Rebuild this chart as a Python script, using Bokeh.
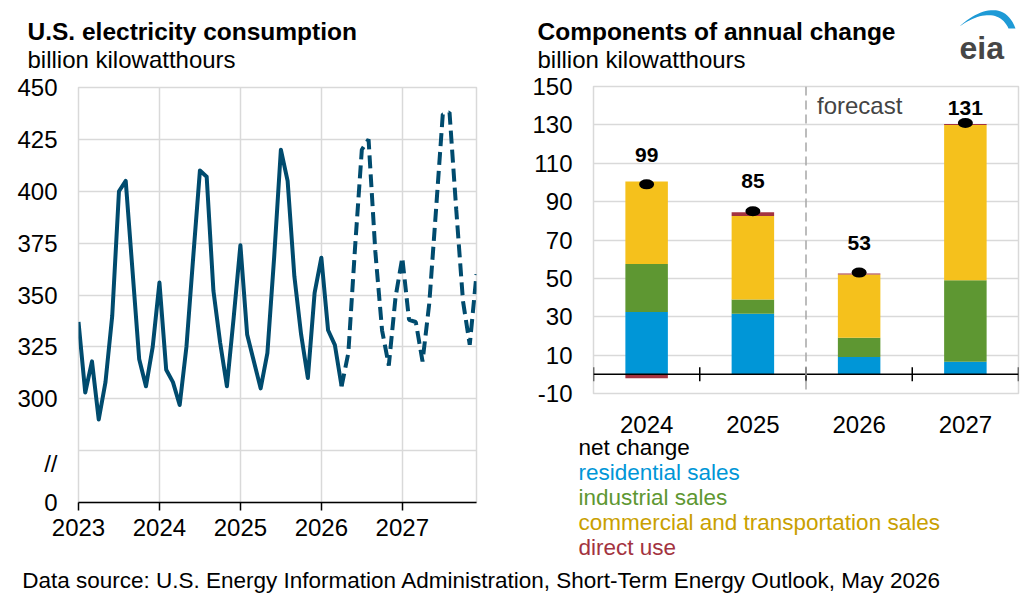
import math
from bokeh.plotting import figure
from bokeh.models import FixedTicker, Label, PolyAnnotation, ColumnDataSource, Span
from bokeh.layouts import column, row
from bokeh.embed import file_html
from bokeh.resources import INLINE
from bokeh.core.properties import value

FONT = "Liberation Sans"

# ---------------- data ----------------
# U.S. electricity consumption, monthly, Jan 2023 - Dec 2027 (billion kWh)
year_labels = ["2023", "2024", "2025", "2026", "2027"]
consumption = [
    337, 303, 318, 290, 308, 340, 400, 405, 362, 319, 306, 325,   # 2023
    356, 314, 308, 297, 325, 368, 410, 407, 352, 327, 306, 339,   # 2024
    374, 331, 318, 305, 322, 368, 420, 405, 359, 331, 310, 351,   # 2025
    368, 333, 326, 306, 322, 373, 420, 425, 371, 333, 316, 349,   # 2026
    368, 338, 337, 318, 346, 391, 437, 438, 391, 347, 326, 360,   # 2027
]
last_history = 39  # April 2026 is the last historical month

# Components of annual change (billion kWh)
change_years = ["2024", "2025", "2026", "2027"]
forecast_from = "2026"
residential = [32.5, 31.5, 9.0, 6.5]
industrial = [25.0, 7.5, 10.0, 42.5]
commercial = [43.0, 43.5, 33.0, 81.0]
direct_use = [-2.0, 2.0, 0.5, 0.5]
net_change = [99, 85, 53, 131]
change_ticks = list(range(-10, 151, 20))

LINE_COLOR = "#004B6E"
GRID = "#D9D9D9"
series = [
    ("residential sales", residential, "#0096D7", "#0096D7"),
    ("industrial sales", industrial, "#5E9732", "#5E9732"),
    ("commercial and transportation sales", commercial, "#F5C11C", "#C9A000"),
    ("direct use", direct_use, "#A33340", "#A33340"),
]

PAGE_W, PAGE_H = 1036, 601
HEAD_H = 72
FOOT_H = 36
MID_H = PAGE_H - HEAD_H - FOOT_H
W1 = 505
W2 = PAGE_W - W1


def no_align(fig):
    try:
        fig.frame_align = False
    except Exception:
        pass


def text_fig(w, h, x_range=(0, 1), y_range=(0, 1)):
    f = figure(width=w, height=h, output_backend="svg", toolbar_location=None,
               x_axis_type=None, y_axis_type=None, x_range=x_range, y_range=y_range,
               min_border=0)
    f.outline_line_color = None
    f.grid.visible = False
    no_align(f)
    return f


def clab(fig, x, y, text, size, color="black", bold=False, baseline="alphabetic"):
    fig.add_layout(Label(x=x, y=y, x_units="canvas", y_units="canvas",
                         text=text, text_font=FONT, text_font_size=size,
                         text_color=color, text_font_style="bold" if bold else "normal",
                         text_baseline=baseline, text_align="left"))


# ---------------- header (titles, logo) ----------------
header = text_fig(PAGE_W, HEAD_H)
clab(header, 27, 31, "U.S. electricity consumption", "24.5px", bold=True)
clab(header, 27, 59, "billion kilowatthours", "24px")
clab(header, 537, 31, "Components of annual change", "24.5px", bold=True)
clab(header, 537, 59, "billion kilowatthours", "24px")
clab(header, 959, 47, "eia", "32px", color="#464646", bold=True)


def cubic(p0, p1, p2, p3, n=24):
    pts = []
    for j in range(n + 1):
        t = j / n
        a, b, c, d = (1 - t) ** 3, 3 * t * (1 - t) ** 2, 3 * t * t * (1 - t), t ** 3
        pts.append((a * p0[0] + b * p1[0] + c * p2[0] + d * p3[0],
                    a * p0[1] + b * p1[1] + c * p2[1] + d * p3[1]))
    return pts


arc = cubic((959, 26), (978, 8), (1005, 0), (1015, 28)) + \
      cubic((1008, 28), (1000, 10), (980, 11), (959, 26))
header.add_layout(PolyAnnotation(xs=[p[0] for p in arc], ys=[p[1] for p in arc],
                                 xs_units="canvas", ys_units="canvas",
                                 fill_color="#1E9AD6", fill_alpha=1, line_color=None))

# ---------------- left chart ----------------
left = figure(width=W1, height=MID_H, output_backend="svg", toolbar_location=None,
              x_range=(0, len(consumption) - 1), y_range=(250, 450),
              min_border_left=78, min_border_right=W1 - 476,
              min_border_top=87 - HEAD_H, min_border_bottom=HEAD_H + MID_H - 502)
no_align(left)
left.outline_line_color = GRID
left.outline_line_width = 1.5

months = list(range(len(consumption)))
left.line(months[:last_history + 1], consumption[:last_history + 1],
          line_color=LINE_COLOR, line_width=4, line_join="round")
left.line(months[last_history:], consumption[last_history:],
          line_color=LINE_COLOR, line_width=4, line_dash="13 6")

xt = [12 * i for i in range(len(year_labels))]
left.xaxis.ticker = FixedTicker(ticks=xt)
left.xaxis.major_label_overrides = {t: lab for t, lab in zip(xt, year_labels)}
left.xaxis.axis_line_color = "black"
left.xaxis.axis_line_width = 1.5
left.xaxis.major_tick_line_color = "black"
left.xaxis.major_tick_line_width = 1.5
left.xaxis.major_tick_out = 8
left.xaxis.major_tick_in = 0
left.xaxis.minor_tick_line_color = None
left.xaxis.major_label_standoff = 8
left.xgrid.ticker = FixedTicker(ticks=xt[1:])

yt = [250, 269] + list(range(300, 451, 25))
left.yaxis.ticker = FixedTicker(ticks=yt)
left.yaxis.major_label_overrides = {250: "0", 269: "//"}
left.yaxis.axis_line_color = None
left.yaxis.major_tick_line_color = None
left.yaxis.minor_tick_line_color = None
left.yaxis.major_tick_out = 0
left.yaxis.major_label_standoff = 21
left.ygrid.ticker = FixedTicker(ticks=list(range(275, 450, 25)))
for ax in (left.xaxis, left.yaxis):
    ax.major_label_text_font = FONT
    ax.major_label_text_font_size = "24px"
    ax.major_label_text_color = "black"
for g in (left.xgrid, left.ygrid):
    g.grid_line_color = GRID
    g.grid_line_width = 1.5

# ---------------- right chart ----------------
R_TOP, R_BOT = 86, 393          # page y of the plot frame
R_L, R_R = 593, 1018            # page x of the plot frame
SPLIT = 408                     # page y where the legend block begins
right_h = SPLIT - HEAD_H
x_lo, x_hi = -0.5, len(change_years) - 0.5
right = figure(width=W2, height=right_h, output_backend="svg", toolbar_location=None,
               x_range=(x_lo, x_hi), y_range=(change_ticks[0], change_ticks[-1]),
               min_border_left=R_L - W1, min_border_right=PAGE_W - R_R,
               min_border_top=R_TOP - HEAD_H, min_border_bottom=SPLIT - R_BOT)
no_align(right)
right.outline_line_color = GRID
right.outline_line_width = 1.5
right.xgrid.grid_line_color = None
right.ygrid.grid_line_color = GRID
right.ygrid.grid_line_width = 1.5

xs = list(range(len(change_years)))
pos = [0.0] * len(xs)
neg = [0.0] * len(xs)
for name, vals, color, _ in series:
    bottoms, tops = [], []
    for i, v in enumerate(vals):
        if v >= 0:
            bottoms.append(pos[i]); tops.append(pos[i] + v); pos[i] += v
        else:
            bottoms.append(neg[i]); tops.append(neg[i] + v); neg[i] += v
    right.vbar(x=xs, bottom=bottoms, top=tops, width=0.4,
               fill_color=color, line_color=None)

right.add_layout(Span(location=0, dimension="width", line_color="black", line_width=1.5))
bounds = [i - 0.5 for i in range(len(change_years) + 1)]
right.scatter(x=bounds, y=[0] * len(bounds), marker="dash", angle=math.pi / 2,
              size=14, line_color="black", line_width=1.5)

fc = change_years.index(forecast_from) - 0.5
right.add_layout(Span(location=fc, dimension="height", line_color="#A6A6A6",
                      line_width=1.5, line_dash="9 5"))
right.add_layout(Label(x=fc, y=change_ticks[-1], x_offset=11, y_offset=-19, text="forecast",
                       text_font=FONT, text_font_size="24px", text_baseline="middle",
                       text_align="left"))

right.ellipse(x=xs, y=net_change, width=15, height=10, width_units="screen",
              height_units="screen", fill_color="black", line_color=None)
src = ColumnDataSource(dict(x=xs, y=[min(n + 15.5, 138.6) for n in net_change],
                            t=[str(n) for n in net_change]))
right.text(x="x", y="y", text="t", source=src, text_font=value(FONT),
           text_font_size="21px", text_font_style="bold", text_align="center",
           text_baseline="middle", text_color="black")

right.yaxis.ticker = FixedTicker(ticks=change_ticks)
right.yaxis.major_label_overrides = {t: str(t) for t in change_ticks}
right.yaxis.axis_line_color = None
right.yaxis.major_tick_line_color = None
right.yaxis.minor_tick_line_color = None
right.yaxis.major_tick_out = 0
right.yaxis.major_label_standoff = 21
right.yaxis.major_label_text_font = FONT
right.yaxis.major_label_text_font_size = "24px"
right.yaxis.major_label_text_color = "black"
right.xaxis.visible = False

# ---------------- legend block under the right chart ----------------
LEG_H = MID_H - right_h
ppu = (R_R - R_L) / (x_hi - x_lo)                 # pixels per category, same scale as chart
leg_x = (x_lo - (R_L - W1) / ppu, x_hi + (PAGE_W - R_R) / ppu)
legend_fig = text_fig(W2, LEG_H, x_range=leg_x, y_range=(0, LEG_H))
legend_fig.text(x=xs, y=[LEG_H - (424 - SPLIT)] * len(xs), text=change_years,
                text_font=value(FONT), text_font_size="24px", text_align="center",
                text_baseline="middle", text_color="black")
legend_items = [("net change", "black")] + [(s[0], s[3]) for s in series]
for k, (txt, col) in enumerate(legend_items):
    clab(legend_fig, 578 - W1, 447 + 25 * k - SPLIT, txt, "22.5px", color=col,
         baseline="middle")

# ---------------- footer ----------------
footer = text_fig(PAGE_W, FOOT_H)
clab(footer, 21.7, 580 - (PAGE_H - FOOT_H),
     "Data source: U.S. Energy Information Administration, Short-Term Energy Outlook, May 2026",
     "22.5px", baseline="middle")

layout = column(header, row(left, column(right, legend_fig)), footer)
open("out.html", "w").write(file_html(layout, INLINE))
